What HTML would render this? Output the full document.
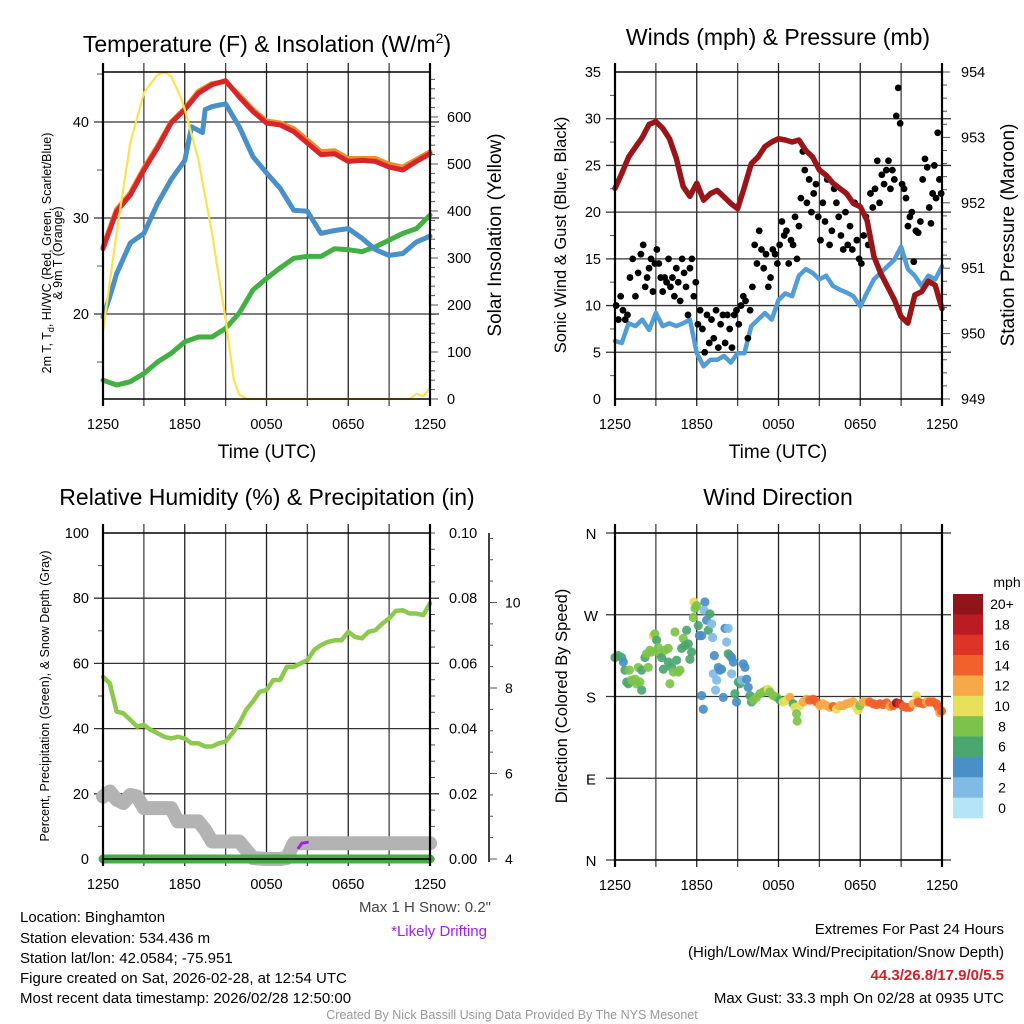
<!DOCTYPE html>
<html><head><meta charset="utf-8"><style>
html,body{margin:0;padding:0;background:#fff;}
svg{display:block;font-family:"Liberation Sans",Arial,sans-serif;}
</style></head><body>
<svg id="chart" width="1024" height="1024" viewBox="0 0 1024 1024" xmlns="http://www.w3.org/2000/svg">
<rect x="0" y="0" width="1024" height="1024" fill="#fff"/>
<text x="267" y="52" font-size="23" text-anchor="middle">Temperature (F) &amp; Insolation (W/m<tspan dy="-9" font-size="14">2</tspan><tspan dy="9">)</tspan></text>
<text x="778" y="45" font-size="23" text-anchor="middle">Winds (mph) &amp; Pressure (mb)</text>
<text x="267" y="505" font-size="23" text-anchor="middle">Relative Humidity (%) &amp; Precipitation (in)</text>
<text x="778" y="505" font-size="23" text-anchor="middle">Wind Direction</text>

<text x="267" y="458" font-size="19" text-anchor="middle">Time (UTC)</text>
<text x="778" y="458" font-size="19" text-anchor="middle">Time (UTC)</text>

<text transform="translate(51,253) rotate(-90)" font-size="12.5" text-anchor="middle">2m T, T<tspan dy="3" font-size="9">d</tspan><tspan dy="-3">, HI/WC (Red, Green, Scarlet/Blue)</tspan></text>
<text transform="translate(62,253) rotate(-90)" font-size="12.5" text-anchor="middle">&amp; 9m T (Orange)</text>
<text transform="translate(501,235) rotate(-90)" font-size="19" text-anchor="middle">Solar Insolation (Yellow)</text>
<text transform="translate(566,235) rotate(-90)" font-size="16.5" text-anchor="middle">Sonic Wind &amp; Gust (Blue, Black)</text>
<text transform="translate(1014,235) rotate(-90)" font-size="19" text-anchor="middle">Station Pressure (Maroon)</text>
<text transform="translate(49,696) rotate(-90)" font-size="12.5" text-anchor="middle">Percent, Precipitation (Green), &amp; Snow Depth (Gray)</text>
<text transform="translate(567,696) rotate(-90)" font-size="16.5" text-anchor="middle">Direction (Colored By Speed)</text>

<g font-size="15">
<text x="20" y="922">Location: Binghamton</text>
<text x="20" y="943">Station elevation: 534.436 m</text>
<text x="20" y="963">Station lat/lon: 42.0584; -75.951</text>
<text x="20" y="983">Figure created on Sat, 2026-02-28, at 12:54 UTC</text>
<text x="20" y="1003">Most recent data timestamp: 2026/02/28 12:50:00</text>
</g>
<text x="491" y="912" font-size="15" fill="#444" text-anchor="end">Max 1 H Snow: 0.2"</text>
<text x="487" y="936" font-size="15" fill="#a020f0" text-anchor="end">*Likely Drifting</text>
<g font-size="15" text-anchor="end">
<text x="1004" y="934">Extremes For Past 24 Hours</text>
<text x="1004" y="957">(High/Low/Max Wind/Precipitation/Snow Depth)</text>
<text x="1004" y="980" fill="#d0202a" font-weight="bold">44.3/26.8/17.9/0/5.5</text>
<text x="1004" y="1003">Max Gust: 33.3 mph On 02/28 at 0935 UTC</text>
</g>
<text x="512" y="1019" font-size="12.5" fill="#999" text-anchor="middle">Created By Nick Bassill Using Data Provided By The NYS Mesonet</text>
<text x="1007" y="587" font-size="14" text-anchor="middle">mph</text>
</svg>
<script>
// ---------- DATA ----------
const timeTickLabels = ["1250","1850","0050","0650","1250"];
const hourly = [0,1,2,3,4,5,6,7,8,9,10,11,12,13,14,15,16,17,18,19,20,21,22,23,24];
const tempRed = [26.8,30.7,32.4,35.0,37.3,39.9,41.3,43.0,43.9,44.3,42.6,41.1,39.9,39.7,39.0,37.8,36.6,36.7,35.9,36.0,35.9,35.3,35.0,35.9,36.7];
const tempOrange = [27.0,30.9,32.6,35.2,37.5,40.0,41.4,43.2,44.0,44.2,42.8,41.3,40.1,39.9,39.3,38.1,36.9,37.0,36.2,36.2,36.2,35.6,35.3,36.1,36.9];
const tempBlueHours = [0,0.5,1,2,3,4,5,6,6.5,7.3,7.5,8,9,10,11,12,13,14,15,16,17,18,19,20,21,22,23,24];
const tempBlue = [19.7,21.8,24.2,27.4,28.4,31.5,34.0,36.0,39.5,38.9,41.3,41.6,41.9,39.5,36.4,34.7,33.1,30.8,30.7,28.4,28.7,28.9,27.9,26.7,26.1,26.3,27.5,28.1];
const dewGreen = [13.1,12.6,12.95,13.8,15.0,15.9,17.1,17.6,17.6,18.5,20.1,22.5,23.7,24.8,25.8,26.0,26.0,26.8,26.7,26.5,27.0,27.7,28.4,28.9,30.3];
const solarHours = [0,1,2,3,4,4.5,5,5.67,6,7,8,9,9.6,10,10.6,22.5,23,23.5,24];
const solarValues = [144,353,545,651,690,695,687,644,616,509,353,169,41,9,0,0,11,6,23];

const halfHours = [0,0.5,1,1.5,2,2.5,3,3.5,4,4.5,5,5.5,6,6.5,7,7.5,8,8.5,9,9.5,10,10.5,11,11.5,12,12.5,13,13.5,14,14.5,15,15.5,16,16.5,17,17.5,18,18.5,19,19.5,20,20.5,21,21.5,22,22.5,23,23.5,24];
const pressure = [952.22,952.45,952.70,952.85,953.0,953.2,953.24,953.14,952.98,952.68,952.25,952.10,952.30,952.04,952.14,952.19,952.09,951.99,951.91,952.24,952.6,952.70,952.86,952.93,952.98,952.96,952.93,952.96,952.8,952.70,952.50,952.42,952.30,952.22,952.14,951.99,951.94,951.73,951.18,950.92,950.72,950.52,950.26,950.16,950.59,950.64,950.80,950.74,950.38];
const windSpeed = [6.2,6.0,8.1,7.8,8.5,7.4,9.2,7.8,8.1,7.8,8.1,8.5,4.9,3.5,4.2,4.2,4.6,3.9,4.9,4.9,7.8,8.5,9.2,8.5,10.6,11.3,11.0,13.2,13.9,13.5,12.8,13.2,12.1,11.7,11.4,11.0,9.9,11.4,12.8,13.5,14.2,14.9,16.3,13.9,13.2,12.1,13.2,12.8,14.2];
const gustGroups = [
 [10,8.5,11,9.5,8.5,9],[13,15,11,13.5,15.5],[16.5,12,13,14,15,11.5,14.5],[16,14.5,13,11.5,13,12.5,15],
 [12,13,11,14,12.5,10.5,15],[13.5,12,9,14,15,11,12.5],[8,9.5,7.5,5,9,6],[8.5,6.5,9.5,5.5,8,9],
 [6,9,7.5,5.5,9,9.5],[8,10,11,10.5,6.5,9.5],[12,16.5,14.5,18,16,14],[15.5,12,13,16,15.5,14.5],
 [16.5,19,17.5,18,14.5,17],[16.5,19.5,15,18.5,21.5,26.5,24.5],[21,23.5,20,22,23,19.5],[17,21,19,23.5,16.5,18],
 [22.5,21,19.5,17.5,16,20],[16.5,18.5,16,21,17,15],[14.5,17.5,19.5,16.5,22,20.5],[22.5,25.5,21,24,23,24.5],
 [25.5,22.5,24.5,23.5,30.3,33.3,29.5],[23,22.5,21.5,18.5,19.5,20,14.7],[18,17.8,19,23.5,25.7,24.8],[20.5,18.8,22,25,21.5,28.5,23.5,22]
];

const rhHumidity = [55.9,53.9,45.2,44.7,42.7,40.6,41.1,39.6,38.6,37.5,37.0,37.5,37.0,35.5,35.5,34.5,34.5,35.5,36.0,38.6,41.6,45.7,48.3,51.3,51.8,54.9,54.9,59.0,59.0,60.0,61.0,64.1,65.6,66.6,67.1,67.1,69.7,68.1,67.7,69.7,70.2,72.2,73.8,76.1,76.3,75.3,75.3,74.8,78.4];
const snowHours = [0,0.5,1,1.5,2,2.5,3,4,5,5.5,6,7,7.5,8,9,10,11,12,13,13.5,14,15,16,17,18,19,20,21,22,23,24];
const snowDepth = [5.46,5.58,5.39,5.31,5.5,5.46,5.19,5.19,5.19,4.88,4.88,4.88,4.68,4.41,4.41,4.41,4.02,4.0,4.0,4.02,4.37,4.37,4.37,4.37,4.37,4.37,4.37,4.37,4.37,4.37,4.37];
const precipHours = [0,24];
const precipValues = [0,0];
const driftHours = [14.35,14.6,15.0];
const driftDepth = [4.26,4.37,4.39];

const dirHours = [0,0.24,0.49,0.61,0.73,0.86,1.05,0.98,1.22,1.47,1.59,1.71,1.96,1.96,1.83,2.2,2.32,2.44,2.57,2.69,2.81,2.93,3.06,3.18,3.3,3.42,3.55,3.67,3.91,3.91,4.03,4.16,4.28,4.4,4.52,4.65,4.77,4.89,5.01,5.13,5.26,5.38,5.5,5.62,5.75,5.79,5.87,5.99,6.11,6.19,6.36,6.36,6.48,6.6,6.53,6.72,6.85,6.97,7.09,7.16,7.29,7.21,7.38,7.46,7.58,7.7,7.82,7.95,8.07,8.19,8.31,8.31,8.44,8.56,8.56,8.68,8.8,8.92,9.05,9.17,9.29,9.41,9.54,9.66,9.78,9.9,10.02,10.15,10.39,10.64,10.88,11.12,11.25,11.37,11.61,11.86,12.1,12.35,12.59,12.84,13.08,13.2,13.33,13.37,13.57,13.81,14.06,14.3,14.55,14.79,15.04,15.28,15.53,15.77,16.01,16.26,16.5,16.75,16.99,17.24,17.48,17.73,17.85,17.97,18.22,18.46,18.7,18.95,19.19,19.44,19.68,19.93,20.17,20.42,20.66,20.9,21.15,21.39,21.64,21.88,22.13,22.25,22.37,22.62,22.86,23.1,23.35,23.59,23.72,23.84,23.96];
const dirDegrees = [223,225,223,218,209,196,209,194,198,199,194,212,187,209,196,223,227,212,231,229,247,249,242,234,227,223,210,231,233,218,194,212,207,251,220,207,209,233,244,236,253,238,221,229,267,284,277,280,258,247,247,181,166,284,275,264,253,271,260,245,225,205,187,198,212,209,210,179,255,240,255,227,225,223,205,218,183,174,196,194,198,216,212,199,190,181,174,176,179,183,185,187,188,185,181,179,176,174,176,179,172,168,161,153,170,174,177,176,177,174,170,172,170,168,169,166,170,170,172,173,174,168,165,170,174,174,174,172,171,172,171,173,169,170,173,172,169,168,168,172,181,174,173,172,174,174,174,172,168,162,164];
const dirSpeeds = [7,7,7,5,7,7,9,7,9,9,9,9,7,7,9,7,9,9,9,9,11,9,7,9,9,7,7,9,9,7,9,7,9,9,7,9,9,7,9,7,7,7,7,7,9,11,9,9,7,5,5,5,5,5,3,5,7,7,3,3,5,3,3,3,5,5,5,5,5,3,3,7,7,5,3,5,7,5,7,7,3,5,5,5,5,7,7,9,9,9,9,9,11,9,9,9,7,11,11,13,7,11,9,9,11,13,13,15,15,15,13,13,13,13,15,11,13,13,13,13,13,11,11,9,13,13,15,15,15,15,15,15,13,15,21,17,15,15,15,13,11,15,15,15,13,15,15,15,15,13,15];
const speedBinLabels = ["20+","18","16","14","12","10","8","6","4","2","0"];
const speedBinColors = ["#8f1519","#bb1c24","#dd3427","#f0612c","#f6a948","#e7e05a","#7dc34b","#4aa66f","#4a8fc6","#80bbe5","#b5e3f8"];

// ---------- HELPERS ----------
const svg = document.getElementById('chart');
const NS = 'http://www.w3.org/2000/svg';
function mk(tag, attrs, name, parent) {
  const el = document.createElementNS(NS, tag);
  for (const k in attrs) el.setAttribute(k, attrs[k]);
  
  
  (parent || svg).appendChild(el);
  return el;
}
function txt(x, y, s, anchor, size, name, fill) {
  const t = mk('text', {x: x, y: y, 'text-anchor': anchor, 'font-size': size, fill: fill || '#000'}, name);
  t.textContent = s;
  return t;
}
function panel(x0, x1, y0, y1) {
  return {x0, x1, y0, y1, x: h => x0 + h * (x1 - x0) / 24};
}
function linScale(v0, v1, p0, p1) { return v => p0 + (v - v0) * (p1 - p0) / (v1 - v0); }
function poly(xs, ys, sx, sy, style, name) {
  const pts = xs.map((h, i) => sx(h).toFixed(1) + ',' + sy(ys[i]).toFixed(1)).join(' ');
  return mk('polyline', Object.assign({points: pts, fill: 'none', 'stroke-linejoin': 'round', 'stroke-linecap': 'round'}, style), name);
}
function timeGrid(p, prefix) {
  for (let i = 0; i <= 8; i++) {
    const x = p.x(i * 3);
    mk('line', {x1: x, y1: p.y0 - 9, x2: x, y2: p.y1 + 7, stroke: i % 2 ? '#444' : '#222', 'stroke-width': 1.3}, prefix + '-vertical-gridline');
    if (i % 2 === 0) txt(x, p.y1 + 30, timeTickLabels[i / 2], 'middle', 14.5, prefix + '-x-tick-label');
  }
}
function hGrid(p, ys, prefix) {
  ys.forEach(y => mk('line', {x1: p.x0 - 9, y1: y, x2: p.x1 + 9, y2: y, stroke: '#333', 'stroke-width': 1.3}, prefix + '-horizontal-gridline'));
}
function frame(p, prefix) {
  mk('line', {x1: p.x0, y1: p.y0, x2: p.x1, y2: p.y0, stroke: '#000', 'stroke-width': 1.5}, prefix + '-top-spine');
  mk('line', {x1: p.x0, y1: p.y1, x2: p.x1, y2: p.y1, stroke: '#000', 'stroke-width': 1.5}, prefix + '-bottom-spine');
  mk('line', {x1: p.x0, y1: p.y0 - 9, x2: p.x0, y2: p.y1 + 7, stroke: '#000', 'stroke-width': 2.2}, prefix + '-left-spine');
  mk('line', {x1: p.x1, y1: p.y0 - 9, x2: p.x1, y2: p.y1 + 7, stroke: '#000', 'stroke-width': 2.2}, prefix + '-right-spine');
}
function ticks(x, y, len, name) { mk('line', {x1: x, y1: y, x2: x + len, y2: y, stroke: '#555', 'stroke-width': 1}, name); }

// ---------- PANEL 1 ----------
const p1 = panel(103, 430, 72, 399);
const t1 = linScale(40, 20, 122, 314);
const s1 = linScale(0, 600, 399, 117);
timeGrid(p1, 'temp');
hGrid(p1, [20, 30, 40].map(t1), 'temp');
[15, 25, 35, 45].forEach(v => ticks(p1.x0 - 6, t1(v), 6, 'temp-left-minor-tick'));
[20, 30, 40].forEach(v => txt(p1.x0 - 14, t1(v) + 5, String(v), 'end', 14.5, 'temp-y-tick-label'));
for (let v = 0; v <= 680; v += 20) ticks(p1.x1, s1(v), v % 100 === 0 ? 8 : 5, 'solar-tick');
for (let v = 0; v <= 600; v += 100) txt(p1.x1 + 17, s1(v) + 5, String(v), 'start', 14.5, 'solar-y-tick-label');
poly(hourly, dewGreen, p1.x, t1, {stroke: '#43b043', 'stroke-width': 5}, 'dewpoint-line');
poly(tempBlueHours, tempBlue, p1.x, t1, {stroke: '#4a90c8', 'stroke-width': 5}, 'heat-index-line');
poly(hourly, tempOrange, p1.x, t1, {stroke: '#f08a2a', 'stroke-width': 5}, 'temp-9m-line');
poly(hourly, tempRed, p1.x, t1, {stroke: '#d7262b', 'stroke-width': 5}, 'temp-2m-line');
poly(solarHours, solarValues, p1.x, s1, {stroke: '#fde24f', 'stroke-width': 2.2}, 'solar-line');
frame(p1, 'temp');

// ---------- PANEL 2 ----------
const p2 = panel(615, 942, 72, 399);
const w2 = linScale(0, 35, 399, 72);
const pr2 = linScale(949, 954, 399, 72);
timeGrid(p2, 'wind');
hGrid(p2, [5, 10, 15, 20, 25, 30].map(w2), 'wind');
for (let v = 2.5; v < 35; v += 5) ticks(p2.x0 - 5, w2(v), 5, 'wind-left-minor-tick');
for (let v = 0; v <= 35; v += 5) txt(p2.x0 - 14, w2(v) + 5, String(v), 'end', 14.5, 'wind-y-tick-label');
for (let v = 949; v <= 954.001; v += 0.2) ticks(p2.x1, pr2(v), Math.abs(v - Math.round(v)) < 0.01 ? 8 : 5, 'pressure-tick');
for (let v = 949; v <= 954; v++) txt(p2.x1 + 19, pr2(v) + 5, String(v), 'start', 14.5, 'pressure-y-tick-label');
poly(halfHours, windSpeed, p2.x, w2, {stroke: '#519dd7', 'stroke-width': 4.5}, 'sonic-wind-line');
gustGroups.forEach((g, hr) => g.forEach((v, i) => {
  mk('circle', {cx: p2.x(hr + (i + 0.5) / g.length), cy: w2(v), r: 3.4, fill: '#000'}, 'gust-point');
}));
poly(halfHours, pressure, p2.x, pr2, {stroke: '#9a1518', 'stroke-width': 5.5}, 'pressure-line');
frame(p2, 'wind');

// ---------- PANEL 3 ----------
const p3 = panel(103, 430, 533, 859);
const rh3 = linScale(0, 100, 859, 533);
const pc3 = linScale(0, 0.1, 859, 533);
const sn3 = linScale(4, 10, 859, 602.5);
timeGrid(p3, 'humidity');
hGrid(p3, [20, 40, 60, 80].map(rh3), 'humidity');
for (let v = 10; v < 100; v += 20) ticks(p3.x0 - 5, rh3(v), 5, 'humidity-left-minor-tick');
for (let v = 0; v <= 100; v += 20) txt(p3.x0 - 14, rh3(v) + 5, String(v), 'end', 14.5, 'humidity-y-tick-label');
for (let v = 0; v <= 0.1001; v += 0.005) ticks(p3.x1, pc3(v), 5, 'precip-tick');
for (let v = 0; v <= 0.1001; v += 0.02) txt(p3.x1 + 19, pc3(v) + 5, v.toFixed(2), 'start', 14.5, 'precip-y-tick-label');
mk('line', {x1: 489, y1: 533, x2: 489, y2: 862, stroke: '#000', 'stroke-width': 1.5}, 'snow-axis-line');
for (let v = 4; v <= 11.5; v += 0.5) ticks(489, sn3(v), v % 2 === 0 ? 8 : 4, 'snow-tick');
for (let v = 4; v <= 10; v += 2) txt(505, sn3(v) + 5, String(v), 'start', 14, 'snow-y-tick-label');
poly(halfHours, rhHumidity, p3.x, rh3, {stroke: '#8cc94e', 'stroke-width': 4.5}, 'humidity-line');
poly(snowHours, snowDepth, p3.x, sn3, {stroke: '#b3b3b3', 'stroke-width': 14}, 'snow-depth-line');
poly(precipHours, precipValues, p3.x, pc3, {stroke: '#44ad44', 'stroke-width': 9}, 'precipitation-line');
poly(driftHours, driftDepth, p3.x, sn3, {stroke: '#a020f0', 'stroke-width': 3}, 'drifting-line');
frame(p3, 'humidity');

// ---------- PANEL 4 ----------
const p4 = panel(615, 942, 533, 860);
const d4 = linScale(0, 360, 860, 533);
timeGrid(p4, 'direction');
hGrid(p4, [0, 90, 180, 270, 360].map(d4), 'direction');
['N', 'E', 'S', 'W', 'N'].forEach((s, i) => txt(591, d4(i * 90) + 6, s, 'middle', 15, 'direction-y-tick-label'));
function speedColor(s) {
  const idx = Math.min(10, Math.floor(s / 2));
  return speedBinColors[10 - idx];
}
dirHours.forEach((h, i) => {
  mk('circle', {cx: p4.x(h), cy: d4(dirDegrees[i]), r: 4.6, fill: speedColor(dirSpeeds[i]), 'fill-opacity': 0.92}, 'direction-point');
});
frame(p4, 'direction');
// colorbar
speedBinLabels.forEach((lab, i) => {
  const y = 594 + i * 224 / 11;
  mk('rect', {x: 953, y: y, width: 30, height: 224 / 11 + 0.3, fill: speedBinColors[i]}, 'colorbar-bin');
  txt(1002, y + 224 / 22 + 5, lab, 'middle', 14, 'colorbar-label');
});
</script>
</body></html>
